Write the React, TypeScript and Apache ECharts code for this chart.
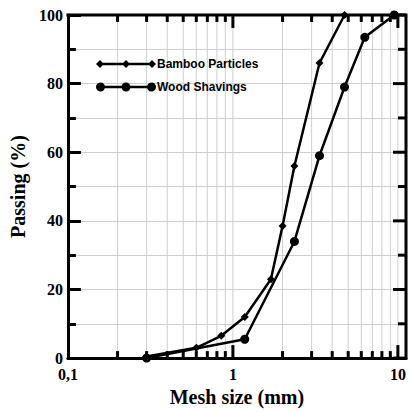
import React, { useEffect, useRef } from "react";
import * as echarts from "echarts";

const bambooSizes = [0.3, 0.6, 0.85, 1.18, 1.7, 2.0, 2.36, 3.35, 4.75];
const bambooPassing = [0.5, 3, 6.5, 12, 23, 38.5, 56, 86, 100];
const woodSizes = [0.3, 1.18, 2.36, 3.35, 4.75, 6.3, 9.5];
const woodPassing = [0, 5.5, 34, 59, 79, 93.5, 100];
const xGridValues = [0.2, 0.3, 0.4, 0.5, 0.6, 0.7, 0.8, 0.9, 1, 2, 3, 4, 5, 6, 7, 8, 9, 10];
const xMajorValues = [1, 10];
const yTickValues = [0, 10, 20, 30, 40, 50, 60, 70, 80, 90, 100];
const xTickLabels: Record<string, string> = { "0.1": "0,1", "1": "1", "10": "10" };
const seriesNames = ["Bamboo Particles", "Wood Shavings"];
const X_MIN = 0.1;
const X_MAX = 11.2;

const SERIF = "'Liberation Serif', 'Times New Roman', serif";
const SANS = "'Liberation Sans', Arial, sans-serif";

const BAMBOO_ICON =
  "path://M4,3.75H56V6.25H4Z M0,5L4,1L8,5L4,9Z M26,5L30,1L34,5L30,9Z M52,5L56,1L60,5L56,9Z";
const WOOD_ICON =
  "path://M4.5,3.25H55.5V5.75H4.5Z M0,4.5A4.5,4.5 0 1 1 9,4.5A4.5,4.5 0 1 1 0,4.5Z M25.5,4.5A4.5,4.5 0 1 1 34.5,4.5A4.5,4.5 0 1 1 25.5,4.5Z M51,4.5A4.5,4.5 0 1 1 60,4.5A4.5,4.5 0 1 1 51,4.5Z";

export default function App() {
  const ref = useRef<HTMLDivElement>(null);
  useEffect(() => {
    if (!ref.current) return;
    const chart = echarts.init(ref.current, null, { renderer: "svg" });
    const bamboo = bambooSizes.map((s, i) => [s, bambooPassing[i]]);
    const wood = woodSizes.map((s, i) => [s, woodPassing[i]]);

    chart.setOption({
      animation: false,
      grid: { left: 64, top: 15, right: 3, bottom: 45 },
      legend: {
        orient: "vertical",
        left: 91,
        top: 53,
        itemGap: 11,
        itemWidth: 60,
        itemHeight: 9,
        selectedMode: false,
        textStyle: { fontFamily: SANS, fontWeight: "bold", fontSize: 12, color: "#000", padding: [0, 0, 0, -4] },
        data: [
          { name: seriesNames[0], icon: BAMBOO_ICON },
          { name: seriesNames[1], icon: WOOD_ICON },
        ],
      },
      xAxis: {
        type: "log",
        logBase: 10,
        min: X_MIN,
        max: X_MAX,
        axisLine: { show: true, onZero: false, lineStyle: { color: "#000", width: 3 } },
        axisTick: { show: false },
        splitLine: { show: false },
        name: "Mesh size (mm)",
        nameLocation: "middle",
        nameGap: 14,
        nameTextStyle: { fontFamily: SERIF, fontWeight: "bold", fontSize: 20, color: "#000", verticalAlign: "top" },
        axisLabel: {
          margin: 8,
          fontFamily: SERIF,
          fontWeight: "bold",
          fontSize: 16,
          color: "#000",
          formatter: (v: number) => xTickLabels[String(Math.round(v * 1000) / 1000)] ?? "",
        },
      },
      yAxis: {
        type: "value",
        min: 0,
        max: 100,
        interval: 20,
        axisLine: { show: true, lineStyle: { color: "#000", width: 3 } },
        axisTick: { show: true, inside: true, length: 13, lineStyle: { color: "#000", width: 3 } },
        minorTick: { show: true, splitNumber: 2, length: 8, lineStyle: { color: "#000", width: 3 } },
        splitLine: { show: true, lineStyle: { color: "#cfcfcf", width: 1 } },
        minorSplitLine: { show: true, lineStyle: { color: "#cfcfcf", width: 1 } },
        name: "Passing (%)",
        nameLocation: "middle",
        nameGap: 27,
        nameTextStyle: { fontFamily: SERIF, fontWeight: "bold", fontSize: 20, color: "#000" },
        axisLabel: { margin: 5, fontFamily: SERIF, fontWeight: "bold", fontSize: 16, color: "#000" },
      },
      series: [
        {
          type: "custom",
          data: xGridValues.map((v) => [v]),
          renderItem: (_params: any, api: any) => {
            const v = api.value(0);
            const bot = api.coord([v, 0]);
            const top = api.coord([v, 100]);
            const major = xMajorValues.some((m) => Math.abs(m - v) < 1e-9);
            const len = major ? 13 : 7;
            return {
              type: "group",
              children: [
                { type: "line", shape: { x1: bot[0], y1: bot[1], x2: top[0], y2: top[1] }, style: { stroke: "#cfcfcf", lineWidth: 1 } },
                { type: "line", shape: { x1: bot[0], y1: bot[1], x2: bot[0], y2: bot[1] - len }, style: { stroke: "#000", lineWidth: 3 } },
                { type: "line", shape: { x1: top[0], y1: top[1], x2: top[0], y2: top[1] + len }, style: { stroke: "#000", lineWidth: 3 } },
              ],
            };
          },
        },
        {
          type: "custom",
          data: yTickValues.map((v) => [X_MAX, v]),
          renderItem: (_params: any, api: any) => {
            const v = api.value(1);
            const p = api.coord([X_MAX, v]);
            const len = v % 20 === 0 ? 13 : 8;
            return {
              type: "line",
              shape: { x1: p[0], y1: p[1], x2: p[0] - len, y2: p[1] },
              style: { stroke: "#000", lineWidth: 3 },
            };
          },
        },
        {
          type: "custom",
          data: [[X_MIN, 100]],
          renderItem: (_params: any, api: any) => {
            const tl = api.coord([X_MIN, 100]);
            const tr = api.coord([X_MAX, 100]);
            const br = api.coord([X_MAX, 0]);
            return {
              type: "polyline",
              shape: { points: [[tl[0] - 1.5, tl[1]], tr, [br[0], br[1] + 1.5]] },
              style: { stroke: "#000", lineWidth: 3, fill: "none" },
            };
          },
        },
        {
          name: seriesNames[0],
          type: "line",
          data: bamboo,
          z: 5,
          symbol: "diamond",
          symbolSize: 8,
          lineStyle: { color: "#000", width: 2.5 },
          itemStyle: { color: "#000" },
        },
        {
          name: seriesNames[1],
          type: "line",
          data: wood,
          z: 6,
          symbol: "circle",
          symbolSize: 9,
          lineStyle: { color: "#000", width: 2.5 },
          itemStyle: { color: "#000" },
        },
      ],
    });
    return () => chart.dispose();
  }, []);
  return <div ref={ref} style={{ width: 409, height: 412, position: "absolute", left: 0, top: 0, background: "#fff" }} />;
}
